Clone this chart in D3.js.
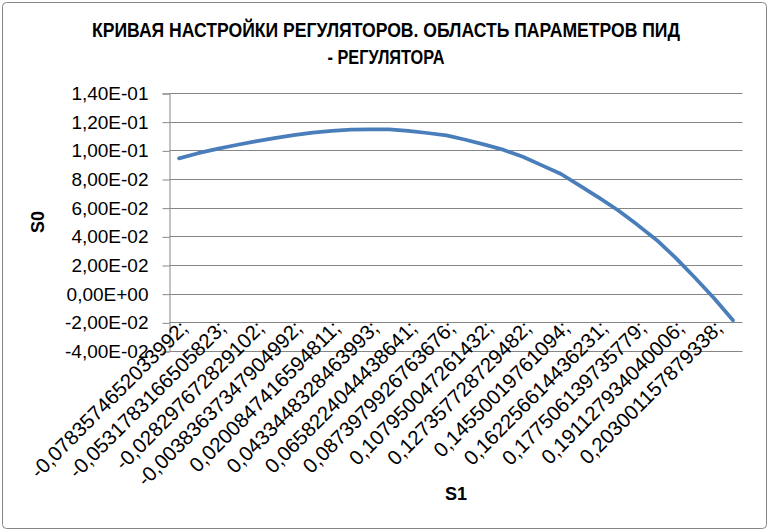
<!DOCTYPE html>
<html><head><meta charset="utf-8">
<script src="https://cdn.jsdelivr.net/npm/d3@7"></script>
<style>body{margin:0;background:#fff}svg{display:block}</style>
</head><body>
<svg id="c" width="772" height="532"></svg>
<script>
// Category labels (S1); only every second label is shown on the axis, as in the original
const s1Labels = [
 "-0,0783574652033992;", "-0,0657;",
 "-0,0531783166505823;", "-0,0407;",
 "-0,028297672829102;", "-0,0160;",
 "-0,00383637347904992;", "0,0081;",
 "0,0200847416594811;", "0,0318;",
 "0,0433448328463993;", "0,0547;",
 "0,0658224044438641;", "0,0767;",
 "0,0873979926763676;", "0,0978;",
 "0,107950047261432;", "0,1179;",
 "0,127357728729482;", "0,1367;",
 "0,14550019761094;", "0,1541;",
 "0,162256614436231;", "0,1701;",
 "0,177506139735779;", "0,1845;",
 "0,191127934040006;", "0,1975;",
 "0,203001157879338;", "0,2137;"
];
// Series S0
const s0Values = [
 0.0944, 0.0980, 0.1010, 0.1037, 0.1062, 0.1085, 0.1106, 0.1123, 0.1136, 0.1144,
 0.1147, 0.1146, 0.1136, 0.1121, 0.1104, 0.1074, 0.1040, 0.1003, 0.0955, 0.0895,
 0.0835, 0.0752, 0.0668, 0.0580, 0.0480, 0.0375, 0.0250, 0.0113, -0.0030, -0.0186
];
const yTicks = [-0.04, -0.02, 0, 0.02, 0.04, 0.06, 0.08, 0.10, 0.12, 0.14];
const titleLines = ["КРИВАЯ НАСТРОЙКИ РЕГУЛЯТОРОВ. ОБЛАСТЬ ПАРАМЕТРОВ ПИД", "- РЕГУЛЯТОРА"];
const xTitle = "S1", yTitle = "S0";

const svg = d3.select("#c");
const L = 169.5, R = 742.5, T = 93, B = 351;
const grid = "#868686";
const font = "'Liberation Sans', Arial, sans-serif";

// chart area border
svg.append("rect").attr("x", 2.5).attr("y", 2.5).attr("width", 764).attr("height", 526)
  .attr("rx", 4).attr("fill", "#fff").attr("stroke", grid).attr("stroke-width", 1);

const idx = d3.range(s0Values.length);
const x = d3.scaleBand().domain(idx).range([L, R]);
const y = d3.scaleLinear().domain([-0.04, 0.14]).range([B, T]);

function sci(v) {
  if (Math.abs(v) < 1e-12) return "0,00E+00";
  let e = Math.floor(Math.log10(Math.abs(v)) + 1e-9);
  let m = v / Math.pow(10, e);
  const s = e < 0 ? "-" : "+";
  return m.toFixed(2).replace(".", ",") + "E" + s + String(Math.abs(e)).padStart(2, "0");
}

// gridlines
svg.append("g").selectAll("line").data(yTicks).join("line")
  .attr("x1", L).attr("x2", R)
  .attr("y1", d => Math.round(y(d)) + 0.5).attr("y2", d => Math.round(y(d)) + 0.5)
  .attr("stroke", grid).attr("stroke-width", 1);

// y axis
const ya = svg.append("g").attr("transform", `translate(${L},0.5)`)
  .call(d3.axisLeft(y).tickValues(yTicks).tickFormat(sci).tickSize(7).tickPadding(14));
ya.select(".domain").attr("stroke", grid);
ya.selectAll(".tick line").attr("stroke", grid);
ya.selectAll(".tick text").attr("font-family", font).attr("font-size", 19).attr("fill", "#000");

// category axis (crosses at -0.02)
const axisY = Math.round(y(-0.02)) + 0.5;
const xa = svg.append("g").attr("transform", `translate(0,${axisY})`)
  .call(d3.axisBottom(x).tickValues(idx.filter(i => i % 2 === 0)).tickFormat(i => s1Labels[i]).tickSize(0));
xa.select(".domain").remove();
xa.selectAll(".tick text")
  .attr("font-family", font).attr("font-size", 20.5).attr("fill", "#000")
  .attr("text-anchor", "end")
  .attr("dy", 0)
  .attr("transform", "translate(10,7) rotate(-45)")
  .attr("y", 0).attr("x", 0);

// line
svg.append("path").datum(s0Values)
  .attr("d", d3.line().x((d, i) => x(i) + x.bandwidth() / 2).y(d => y(d)))
  .attr("fill", "none").attr("stroke", "#4A7EBB").attr("stroke-width", 3.75)
  .attr("stroke-linejoin", "round").attr("stroke-linecap", "round");

// title
svg.append("g").selectAll("text").data(titleLines).join("text")
  .attr("x", 386).attr("y", (d, i) => 37 + i * 27)
  .attr("text-anchor", "middle")
  .attr("font-family", "'Liberation Sans Narrow', 'Liberation Sans', Arial, sans-serif")
  .attr("font-weight", "bold").attr("font-size", 20)
  .attr("textLength", (d, i) => i === 0 ? 588 : 117)
  .attr("lengthAdjust", "spacingAndGlyphs")
  .text(d => d);

// axis titles
svg.append("text").attr("x", (L + R) / 2).attr("y", 500).attr("text-anchor", "middle")
  .attr("font-family", font).attr("font-weight", "bold").attr("font-size", 18).text(xTitle);
svg.append("text").attr("transform", `translate(44,${(T + B) / 2}) rotate(-90)`)
  .attr("text-anchor", "middle")
  .attr("font-family", font).attr("font-weight", "bold").attr("font-size", 18).text(yTitle);
</script>
</body></html>
